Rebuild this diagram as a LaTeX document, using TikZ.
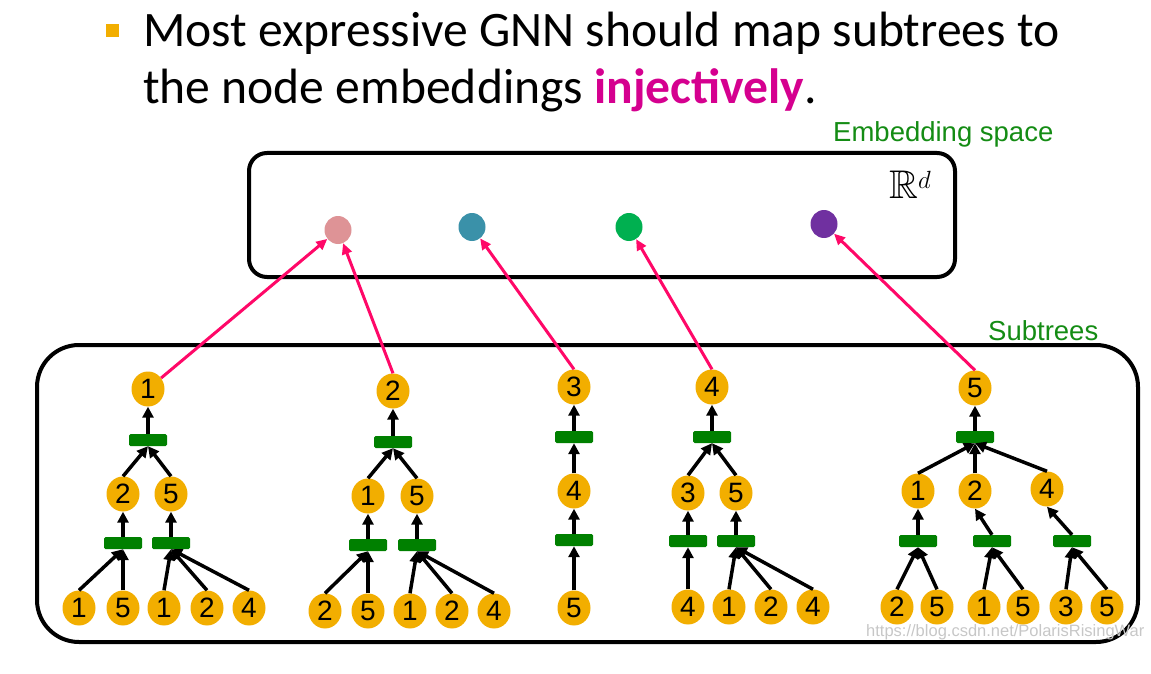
\documentclass[tikz,border=0pt]{standalone}
\usepackage{amssymb}
\usepackage{fontspec}
\setmainfont{Carlito}
\newfontfamily\arialf{Liberation Sans}
\usetikzlibrary{arrows.meta,shapes.geometric}
\definecolor{gold}{RGB}{242,174,0}
\definecolor{bargreen}{RGB}{0,128,0}
\definecolor{lblgreen}{RGB}{20,140,20}
\definecolor{arrowpink}{RGB}{255,8,104}
\definecolor{injpink}{RGB}{213,0,143}
\definecolor{dotpink}{RGB}{222,147,150}
\definecolor{dotteal}{RGB}{58,145,169}
\definecolor{dotgreen}{RGB}{0,176,80}
\definecolor{dotpurple}{RGB}{112,48,160}
\tikzset{
  tnode/.style={ellipse,fill=gold,minimum width=33pt,minimum height=35pt,inner sep=0pt,
    font=\arialf\fontsize{28}{28}\selectfont},
  agg/.style={rectangle,fill=bargreen,minimum width=38pt,minimum height=12pt,inner sep=0pt,rounded corners=1.5pt},
  tedge/.style={-{Triangle[length=11pt,width=11pt]},line width=3.5pt,black},
  emb/.style={-{Triangle[length=11pt,width=10pt]},line width=3pt,arrowpink},
  dot/.style={ellipse,minimum width=27pt,minimum height=28pt,inner sep=0pt},
  frame/.style={draw=black,line width=4pt},
  lbl/.style={text=lblgreen,font=\arialf\fontsize{27.5}{28}\selectfont,anchor=base west,inner sep=0pt}
}
\begin{document}
\begin{tikzpicture}[x=1pt,y=-1pt]
\useasboundingbox (0,0) rectangle (1151,674);
% title
\node[fill=gold,minimum size=13pt,inner sep=0pt] (bullet) at (112,31) {};
\node[anchor=base west,inner sep=0pt,font=\fontsize{49.6}{59}\selectfont] (t1) at (143,47) {Most expressive GNN should map subtrees to};
\node[anchor=base west,inner sep=0pt,font=\fontsize{49.6}{59}\selectfont] (t2) at (143,104) {the node embeddings \textbf{\color{injpink}injectively}.};
% embedding space
\node[lbl] (elabel) at (833,142) {Embedding space};
\draw[frame,rounded corners=18pt] (249,153) rectangle (955,277);
\node[anchor=base west,inner sep=0pt,font=\fontsize{40}{44}\selectfont] (Rd) at (889,198) {$\mathbb{R}^{d}$};
\node[dot,fill=dotpink] (d1) at (338,230) {};
\node[dot,fill=dotteal] (d2) at (472,227) {};
\node[dot,fill=dotgreen] (d3) at (629,227) {};
\node[dot,fill=dotpurple] (d4) at (824,224) {};
% subtrees
\node[lbl] (slabel) at (988,340) {Subtrees};
\draw[frame,rounded corners=42pt] (37,345) rectangle (1138,642);
\node[anchor=base west,inner sep=0pt,text=black!22,font=\arialf\fontsize{16.5}{17}\selectfont] (wm) at (866,636) {https://blog.csdn.net/PolarisRisingWar};
% ---------- tree 1
\node[tnode] (r1) at (148,389) {1};
\node[agg] (b1) at (148,440) {};
\node[tnode] (n1a) at (123,494) {2};
\node[tnode] (n1b) at (171,494) {5};
\node[agg] (b1a) at (123,543) {};
\node[agg] (b1b) at (171,543) {};
\node[tnode] (l11) at (79,608) {1};
\node[tnode] (l12) at (123,608) {5};
\node[tnode] (l13) at (164,608) {1};
\node[tnode] (l14) at (207,608) {2};
\node[tnode] (l15) at (249,608) {4};
\draw[tedge] (b1.north) -- (r1.south);
\draw[tedge] (n1a.north) -- (b1.south);
\draw[tedge] (n1b.north) -- (b1.south);
\draw[tedge] (b1a.north) -- (n1a.south);
\draw[tedge] (b1b.north) -- (n1b.south);
\draw[tedge] (l11.north) -- (b1a.south);
\draw[tedge] (l12.north) -- (b1a.south);
\draw[tedge] (l13.north) -- (b1b.south);
\draw[tedge] (l14.north) -- (b1b.south);
\draw[tedge] (l15.north) -- (b1b.south);
% ---------- tree 2
\node[tnode] (r2) at (393,391) {2};
\node[agg] (b2) at (393,442) {};
\node[tnode] (n2a) at (368,496) {1};
\node[tnode] (n2b) at (417,496) {5};
\node[agg] (b2a) at (368,545) {};
\node[agg] (b2b) at (417,545) {};
\node[tnode] (l21) at (325,611) {2};
\node[tnode] (l22) at (368,611) {5};
\node[tnode] (l23) at (410,611) {1};
\node[tnode] (l24) at (452,611) {2};
\node[tnode] (l25) at (494,611) {4};
\draw[tedge] (b2.north) -- (r2.south);
\draw[tedge] (n2a.north) -- (b2.south);
\draw[tedge] (n2b.north) -- (b2.south);
\draw[tedge] (b2a.north) -- (n2a.south);
\draw[tedge] (b2b.north) -- (n2b.south);
\draw[tedge] (l21.north) -- (b2a.south);
\draw[tedge] (l22.north) -- (b2a.south);
\draw[tedge] (l23.north) -- (b2b.south);
\draw[tedge] (l24.north) -- (b2b.south);
\draw[tedge] (l25.north) -- (b2b.south);
% ---------- tree 3
\node[tnode] (r3) at (574,387) {3};
\node[agg] (b3) at (574,437) {};
\node[tnode] (n3a) at (574,491) {4};
\node[agg] (b3a) at (574,540) {};
\node[tnode] (l31) at (574,608) {5};
\draw[tedge] (b3.north) -- (r3.south);
\draw[tedge] (n3a.north) -- (b3.south);
\draw[tedge] (b3a.north) -- (n3a.south);
\draw[tedge] (l31.north) -- (b3a.south);
% ---------- tree 4
\node[tnode] (r4) at (712,387) {4};
\node[agg] (b4) at (712,437) {};
\node[tnode] (n4a) at (688,493) {3};
\node[tnode] (n4b) at (736,493) {5};
\node[agg] (b4a) at (688,541) {};
\node[agg] (b4b) at (736,541) {};
\node[tnode] (l41) at (688,607) {4};
\node[tnode] (l42) at (729,607) {1};
\node[tnode] (l43) at (771,607) {2};
\node[tnode] (l44) at (813,607) {4};
\draw[tedge] (b4.north) -- (r4.south);
\draw[tedge] (n4a.north) -- (b4.south);
\draw[tedge] (n4b.north) -- (b4.south);
\draw[tedge] (b4a.north) -- (n4a.south);
\draw[tedge] (b4b.north) -- (n4b.south);
\draw[tedge] (l41.north) -- (b4a.south);
\draw[tedge] (l42.north) -- (b4b.south);
\draw[tedge] (l43.north) -- (b4b.south);
\draw[tedge] (l44.north) -- (b4b.south);
% ---------- tree 5
\node[tnode] (r5) at (975,388) {5};
\node[agg] (b5) at (975,437) {};
\node[tnode] (n5a) at (918,491) {1};
\node[tnode] (n5b) at (975,491) {2};
\node[tnode] (n5c) at (1047,489) {4};
\node[agg] (b5a) at (918,541) {};
\node[agg] (b5b) at (992,541) {};
\node[agg] (b5c) at (1072,541) {};
\node[tnode] (l51) at (897,607) {2};
\node[tnode] (l52) at (937,607) {5};
\node[tnode] (l53) at (984,607) {1};
\node[tnode] (l54) at (1023,607) {5};
\node[tnode] (l55) at (1066,607) {3};
\node[tnode] (l56) at (1107,607) {5};
\draw[tedge] (b5.north) -- (r5.south);
\draw[tedge] (n5a.north) -- (b5.south);
\draw[tedge] (n5b.north) -- (b5.south);
\draw[tedge] (n5c.north) -- (b5.south);
\draw[tedge] (b5a.north) -- (n5a.south);
\draw[tedge] (b5b.north) -- (n5b.south);
\draw[tedge] (b5c.north) -- (n5c.south);
\draw[tedge] (l51.north) -- (b5a.south);
\draw[tedge] (l52.north) -- (b5a.south);
\draw[tedge] (l53.north) -- (b5b.south);
\draw[tedge] (l54.north) -- (b5b.south);
\draw[tedge] (l55.north) -- (b5c.south);
\draw[tedge] (l56.north) -- (b5c.south);
% ---------- embedding arrows
\draw[emb] (r1) -- (d1);
\draw[emb] (r2.north) -- (d1);
\draw[emb] (r3.north) -- (d2);
\draw[emb] (r4.north) -- (d3);
\draw[emb] (r5.north) -- (d4);
\end{tikzpicture}
\end{document}
